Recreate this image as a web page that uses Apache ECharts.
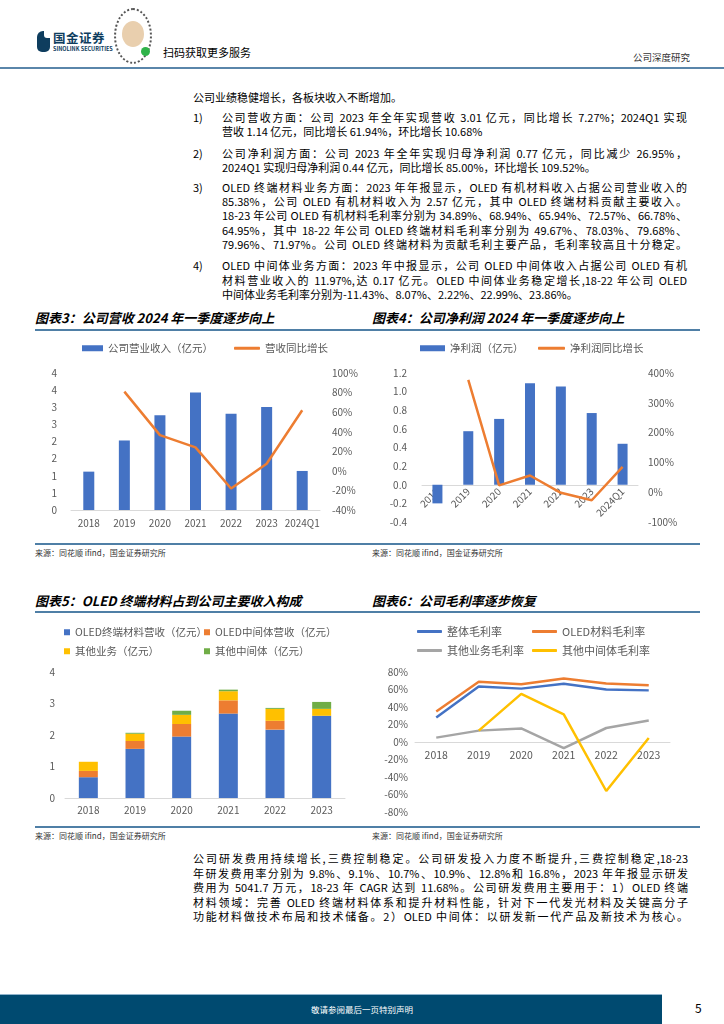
<!DOCTYPE html>
<html><head><meta charset="utf-8">
<script src="https://cdn.jsdelivr.net/npm/echarts@6/dist/echarts.min.js"></script>
<style>
html,body{margin:0;padding:0;background:#fff;}
#page{position:relative;width:724px;height:1024px;overflow:hidden;background:#fff;font-family:"Noto Sans CJK SC","Noto Sans",sans-serif;color:#000;}
.abs{position:absolute;}
.ln{position:absolute;font-size:11px;line-height:14px;height:14px;white-space:normal;overflow:visible;}
.jf{text-align:justify;text-align-last:justify;}
.ttl{position:absolute;font-size:13px;font-weight:bold;font-style:italic;line-height:16px;white-space:nowrap;}
.src{position:absolute;font-size:8px;line-height:10px;color:#333;white-space:nowrap;}
.rule{position:absolute;height:2px;background:#4f7fa6;}
.chart{position:absolute;}
</style></head>
<body>
<div id="page">
  <!-- header -->
  <div class="abs" style="left:37px;top:31px;width:13px;height:21px;border-radius:6px 6px 5px 5px;background:#0e3d5e;"></div>
  <div class="abs" style="left:44px;top:31px;width:6px;height:7px;background:#fff;border-radius:0 0 0 3px;"></div>
  <div class="abs" style="left:53px;top:30px;font-size:12.5px;font-weight:bold;color:#0e3d5e;letter-spacing:0.5px;line-height:15px;white-space:nowrap;">国金证券</div>
  <div class="abs" style="left:53px;top:46px;font-size:5.5px;font-weight:bold;color:#0e3d5e;line-height:6px;white-space:nowrap;">SINOLINK SECURITIES</div>
  <div class="abs" style="left:114px;top:8px;width:34px;height:52px;border-radius:50%;border:2px dotted #555;"></div>
  <div class="abs" style="left:122px;top:21px;width:22px;height:26px;border-radius:50%;background:#e9cfae;"></div>
  <div class="abs" style="left:141px;top:47px;width:9px;height:9px;border-radius:50%;background:#2fb34a;"></div>
  <div class="abs" style="left:163px;top:45px;font-size:11px;line-height:14px;white-space:nowrap;">扫码获取更多服务</div>
  <div class="abs" style="left:610px;top:51px;width:80px;text-align:right;font-size:9.5px;line-height:12px;color:#333;white-space:nowrap;">公司深度研究</div>
  <div class="rule" style="left:0;top:67px;width:724px;background:#5a86aa;"></div>

  <div id="text"></div>

  <!-- chart frames -->
  <div class="ttl" style="left:35px;top:310px;">图表3：公司营收 2024 年一季度逐步向上</div>
  <div class="ttl" style="left:372px;top:310px;">图表4：公司净利润 2024 年一季度逐步向上</div>
  <div class="rule" style="left:35px;top:329px;width:665px;"></div>
  <div class="rule" style="left:35px;top:543px;width:665px;"></div>
  <div class="src" style="left:35px;top:548px;">来源：同花顺 ifind，国金证券研究所</div>
  <div class="src" style="left:372px;top:548px;">来源：同花顺 ifind，国金证券研究所</div>

  <div class="ttl" style="left:35px;top:593px;">图表5：OLED 终端材料占到公司主要收入构成</div>
  <div class="ttl" style="left:372px;top:593px;">图表6：公司毛利率逐步恢复</div>
  <div class="rule" style="left:35px;top:611px;width:665px;"></div>
  <div class="rule" style="left:35px;top:826px;width:665px;"></div>
  <div class="src" style="left:35px;top:831px;">来源：同花顺 ifind，国金证券研究所</div>
  <div class="src" style="left:372px;top:831px;">来源：同花顺 ifind，国金证券研究所</div>

  <div id="c3" class="chart" style="left:35px;top:333px;width:325px;height:210px;"></div>
  <div id="c4" class="chart" style="left:365px;top:333px;width:335px;height:210px;"></div>
  <div id="c5" class="chart" style="left:35px;top:614px;width:325px;height:211px;"></div>
  <div id="c6" class="chart" style="left:365px;top:614px;width:335px;height:211px;"></div>

  <!-- footer -->
  <div class="abs" style="left:0;top:994px;width:662px;height:30px;background:#004a70;border-top:1px solid #8fb3cc;"></div>
  <div class="abs" style="left:0;top:1003px;width:724px;text-align:center;font-size:8.5px;line-height:12px;color:#fff;white-space:nowrap;">敬请参阅最后一页特别声明</div>
  <div class="abs" style="left:695px;top:1000px;font-size:12px;line-height:16px;color:#000;">5</div>
</div>

<script>
// ---------- data ----------
const years7 = ['2018', '2019', '2020', '2021', '2022', '2023', '2024Q1'];
const revenue = [1.12, 2.03, 2.77, 3.43, 2.81, 3.01, 1.14];
const revenueYoY = [null, 81, 36.5, 24, -18, 7.27, 61.94];

const netProfit = [-0.20, 0.575, 0.707, 1.089, 1.054, 0.77, 0.44];
const netProfitYoY = [null, 377, 23, 56, -2, -26.95, 85];

const years6 = ['2018', '2019', '2020', '2021', '2022', '2023'];
const oledTerminal = [0.66, 1.56, 1.95, 2.68, 2.17, 2.61];
const oledIntermediate = [0.20, 0.25, 0.40, 0.42, 0.28, 0];
const otherBusiness = [0.29, 0.23, 0.29, 0.29, 0.38, 0.22];
const otherIntermediate = [0, 0.03, 0.13, 0.05, 0.03, 0.22];

const grossOverall = [28, 63.5, 61, 66.5, 60, 59];
const grossOled = [34.89, 68.94, 65.94, 72.57, 66.78, 64.95];
const grossOther = [5, 13, 15.5, -7, 16, 24.5];
const grossOtherIntermediate = [null, 13, 55, 31.5, -56, 4.5];

// ---------- page text ----------
const textLines = [
  {x:193, y:97, w:300, t:'公司业绩稳健增长，各板块收入不断增加。', j:false},
  {x:193, y:117, w:25, t:'1)', j:false},
  {x:222, y:117, w:465, t:'公司营收方面：公司 2023 年全年实现营收 3.01 亿元，同比增长 7.27%；2024Q1 实现', j:true},
  {x:222, y:131, w:465, t:'营收 1.14 亿元，同比增长 61.94%，环比增长 10.68%', j:false},
  {x:193, y:153, w:25, t:'2)', j:false},
  {x:222, y:153, w:465, t:'公司净利润方面：公司 2023 年全年实现归母净利润 0.77 亿元，同比减少 26.95%，', j:true},
  {x:222, y:167, w:465, t:'2024Q1 实现归母净利润 0.44 亿元，同比增长 85.00%，环比增长 109.52%。', j:false},
  {x:193, y:187, w:25, t:'3)', j:false},
  {x:222, y:187, w:465, t:'OLED 终端材料业务方面：2023 年年报显示，OLED 有机材料收入占据公司营业收入的', j:true},
  {x:222, y:201, w:465, t:'85.38%，公司 OLED 有机材料收入为 2.57 亿元，其中 OLED 终端材料贡献主要收入。', j:true},
  {x:222, y:215, w:465, t:'18-23 年公司 OLED 有机材料毛利率分别为 34.89%、68.94%、65.94%、72.57%、66.78%、', j:true},
  {x:222, y:230, w:465, t:'64.95%，其中 18-22 年公司 OLED 终端材料毛利率分别为 49.67%、78.03%、79.68%、', j:true},
  {x:222, y:244, w:465, t:'79.96%、71.97%。公司 OLED 终端材料为贡献毛利主要产品，毛利率较高且十分稳定。', j:true},
  {x:193, y:265, w:25, t:'4)', j:false},
  {x:222, y:265, w:465, t:'OLED 中间体业务方面：2023 年中报显示，公司 OLED 中间体收入占据公司 OLED 有机', j:true},
  {x:222, y:280, w:465, t:'材料营业收入的 11.97%,达 0.17 亿元。OLED 中间体业务稳定增长,18-22 年公司 OLED', j:true},
  {x:222, y:294, w:465, t:'中间体业务毛利率分别为-11.43%、8.07%、2.22%、22.99%、23.86%。', j:false},
  {x:193, y:858, w:495, t:'公司研发费用持续增长,三费控制稳定。公司研发投入力度不断提升,三费控制稳定,18-23', j:true},
  {x:193, y:873, w:495, t:'年研发费用率分别为 9.8%、9.1%、10.7%、10.9%、12.8%和 16.8%，2023 年年报显示研发', j:true},
  {x:193, y:887, w:495, t:'费用为 5041.7 万元，18-23 年 CAGR 达到 11.68%。公司研发费用主要用于：1）OLED 终端', j:true},
  {x:193, y:902, w:495, t:'材料领域：完善 OLED 终端材料体系和提升材料性能，针对下一代发光材料及关键高分子', j:true},
  {x:193, y:916, w:495, t:'功能材料做技术布局和技术储备。2）OLED 中间体：以研发新一代产品及新技术为核心。', j:true}
];
const host = document.getElementById('text');
textLines.forEach(l => {
  const d = document.createElement('div');
  d.className = 'ln' + (l.j ? ' jf' : '');
  d.style.left = l.x + 'px';
  d.style.top = (l.y - 7) + 'px';
  d.style.width = l.w + 'px';
  d.textContent = l.t;
  host.appendChild(d);
});

// ---------- charts ----------
const FONT = '"Noto Sans CJK SC","Noto Sans",sans-serif';
const GREY = '#595959';
const BLUE = '#4472C4', ORANGE = '#ED7D31', GRAY = '#A5A5A5', YELLOW = '#FFC000', GREEN = '#70AD47';
const axisLineX = {show:true, onZero:false, lineStyle:{color:'#D9D9D9', width:1}};
const noSplit = {show:false};
const lbl = (extra) => Object.assign({color:GREY, fontSize:10, fontFamily:FONT}, extra || {});
const legTxt = (fs) => ({color:GREY, fontSize:fs, fontFamily:FONT});

// Chart 3
const c3 = echarts.init(document.getElementById('c3'), null, {renderer:'canvas'});
c3.setOption({
  animation:false,
  textStyle:{fontFamily:FONT},
  legend:[
    {left:47, top:10, icon:'rect', itemWidth:21, itemHeight:6, data:['公司营业收入（亿元）'], textStyle:legTxt(10.5), padding:0},
    {left:199, top:10, icon:'roundRect', itemWidth:26, itemHeight:3, data:['营收同比增长'], textStyle:legTxt(10.5), padding:0}
  ],
  grid:{left:36, right:40, top:40, bottom:33, outerBoundsMode:'none'},
  xAxis:{type:'category', data:years7, axisLine:axisLineX, axisTick:{show:false}, axisLabel:lbl({margin:8, interval:0})},
  yAxis:[
    {type:'value', min:0, max:4, interval:0.5, splitLine:noSplit, axisLine:{show:false}, axisTick:{show:false},
     axisLabel:lbl({margin:14, formatter:v => String(Math.round(v))})},
    {type:'value', min:-40, max:100, interval:20, splitLine:noSplit, axisLine:{show:false}, axisTick:{show:false},
     axisLabel:lbl({margin:12, formatter:'{value}%'})}
  ],
  series:[
    {name:'公司营业收入（亿元）', type:'bar', data:revenue, barWidth:11, itemStyle:{color:BLUE}},
    {name:'营收同比增长', type:'line', yAxisIndex:1, data:revenueYoY, showSymbol:false, symbol:'none',
     lineStyle:{color:ORANGE, width:2.5}, itemStyle:{color:ORANGE}}
  ]
});

// Chart 4 : plot height 149px, zero of left axis at 1/4 from bottom
const c4 = echarts.init(document.getElementById('c4'), null, {renderer:'canvas'});
c4.setOption({
  animation:false,
  textStyle:{fontFamily:FONT},
  legend:[
    {left:55, top:10, icon:'rect', itemWidth:25, itemHeight:6, data:['净利润（亿元）'], textStyle:legTxt(10.5), padding:0},
    {left:173, top:10, icon:'roundRect', itemWidth:27, itemHeight:3, data:['净利润同比增长'], textStyle:legTxt(10.5), padding:0}
  ],
  grid:{left:57, right:62, top:40, bottom:21, outerBoundsMode:'none'},
  xAxis:{type:'category', data:years7, offset:-37.25, axisLine:axisLineX, axisTick:{show:false},
    axisLabel:lbl({rotate:45, margin:5, interval:0})},
  yAxis:[
    {type:'value', min:-0.4, max:1.2, interval:0.2, splitLine:noSplit, axisLine:{show:false}, axisTick:{show:false},
     axisLabel:lbl({margin:15, formatter:v => v.toFixed(1)})},
    {type:'value', min:-100, max:400, interval:100, splitLine:noSplit, axisLine:{show:false}, axisTick:{show:false},
     axisLabel:lbl({margin:10, formatter:'{value}%'})}
  ],
  series:[
    {name:'净利润（亿元）', type:'bar', data:netProfit, barWidth:10, itemStyle:{color:BLUE}},
    {name:'净利润同比增长', type:'line', yAxisIndex:1, data:netProfitYoY, showSymbol:false, symbol:'none',
     lineStyle:{color:ORANGE, width:2.5}, itemStyle:{color:ORANGE}}
  ]
});

// Chart 5
const c5 = echarts.init(document.getElementById('c5'), null, {renderer:'canvas'});
const sq = {icon:'rect', itemWidth:6, itemHeight:6, textStyle:legTxt(10.5), padding:0, itemGap:0};
c5.setOption({
  animation:false,
  textStyle:{fontFamily:FONT},
  legend:[
    Object.assign({left:29, top:13, data:['OLED终端材料营收（亿元）']}, sq),
    Object.assign({left:169, top:13, data:['OLED中间体营收（亿元）']}, sq),
    Object.assign({left:29, top:32, data:['其他业务（亿元）']}, sq),
    Object.assign({left:169, top:32, data:['其他中间体（亿元）']}, sq)
  ],
  grid:{left:30, right:15, top:58, bottom:27, outerBoundsMode:'none'},
  xAxis:{type:'category', data:years6, axisLine:axisLineX, axisTick:{show:false}, axisLabel:lbl({margin:7, interval:0})},
  yAxis:{type:'value', min:0, max:4, interval:1, splitLine:noSplit, axisLine:{show:false}, axisTick:{show:false},
    axisLabel:lbl({margin:10})},
  series:[
    {name:'OLED终端材料营收（亿元）', type:'bar', stack:'a', data:oledTerminal, barWidth:19, itemStyle:{color:BLUE}},
    {name:'OLED中间体营收（亿元）', type:'bar', stack:'a', data:oledIntermediate, barWidth:19, itemStyle:{color:ORANGE}},
    {name:'其他业务（亿元）', type:'bar', stack:'a', data:otherBusiness, barWidth:19, itemStyle:{color:YELLOW}},
    {name:'其他中间体（亿元）', type:'bar', stack:'a', data:otherIntermediate, barWidth:19, itemStyle:{color:GREEN}}
  ]
});

// Chart 6 : plot height 140px, zero in the middle
const c6 = echarts.init(document.getElementById('c6'), null, {renderer:'canvas'});
const ln = {icon:'roundRect', itemWidth:25, itemHeight:3, textStyle:legTxt(11), padding:0};
const lineS = (name, data, color) => ({name, type:'line', data, showSymbol:false, symbol:'none',
  lineStyle:{color, width:2.5}, itemStyle:{color}});
c6.setOption({
  animation:false,
  textStyle:{fontFamily:FONT},
  legend:[
    Object.assign({left:52, top:12, data:['整体毛利率']}, ln),
    Object.assign({left:167, top:12, data:['OLED材料毛利率']}, ln),
    Object.assign({left:52, top:31, data:['其他业务毛利率']}, ln),
    Object.assign({left:167, top:31, data:['其他中间体毛利率']}, ln)
  ],
  grid:{left:50, right:30, top:58, bottom:13, outerBoundsMode:'none'},
  xAxis:{type:'category', data:years6, offset:-70, axisLine:axisLineX, axisTick:{show:false},
    axisLabel:lbl({margin:8, fontSize:10.5, interval:0})},
  yAxis:{type:'value', min:-80, max:80, interval:20, splitLine:noSplit, axisLine:{show:false}, axisTick:{show:false},
    axisLabel:lbl({margin:7, formatter:'{value}%'})},
  series:[
    lineS('整体毛利率', grossOverall, BLUE),
    lineS('OLED材料毛利率', grossOled, ORANGE),
    lineS('其他业务毛利率', grossOther, GRAY),
    lineS('其他中间体毛利率', grossOtherIntermediate, YELLOW)
  ]
});
</script>
</body></html>
